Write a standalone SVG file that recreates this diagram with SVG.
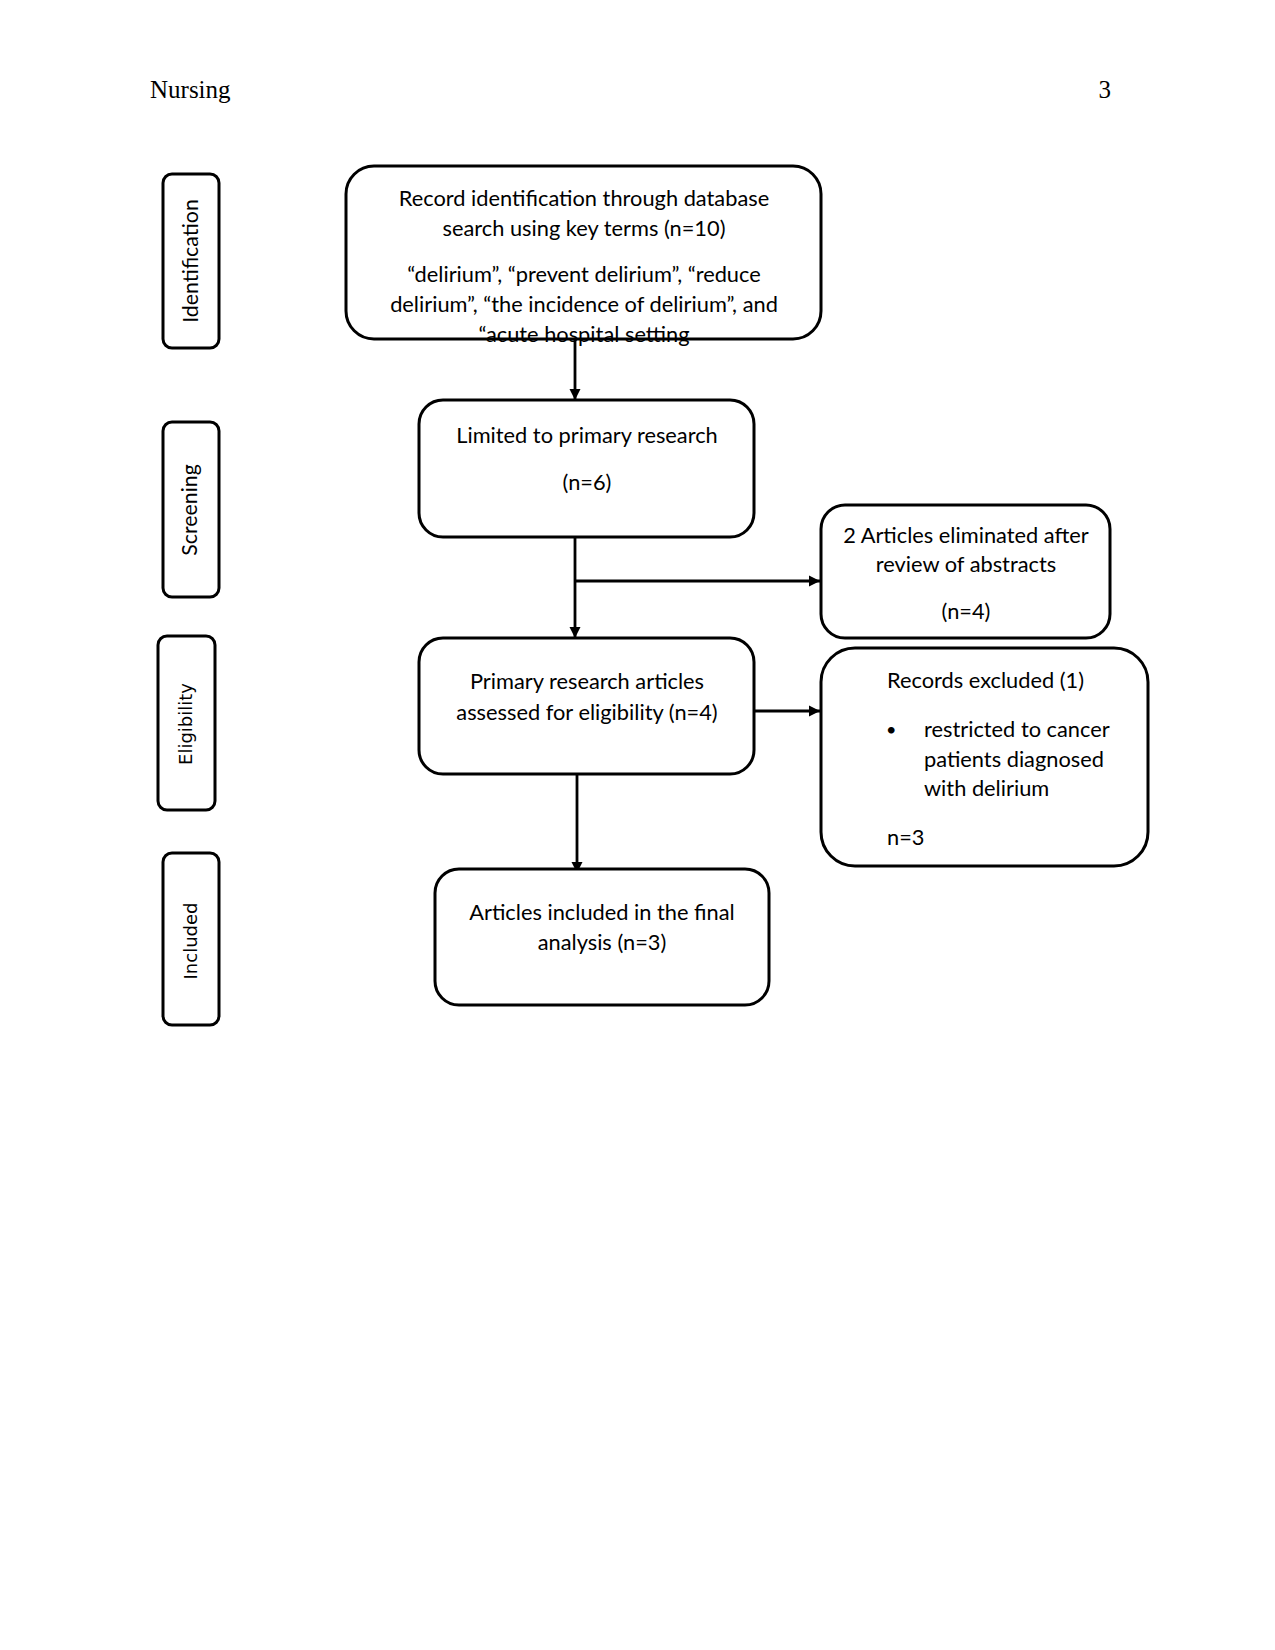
<svg xmlns="http://www.w3.org/2000/svg" width="1275" height="1650" viewBox="0 0 1275 1650">
<defs>
<style>
.box{fill:#fff;stroke:#000;stroke-width:3}
.side{fill:#fff;stroke:#000;stroke-width:3}
.t{font-family:Lato,"Liberation Sans",sans-serif;font-size:21.8px;fill:#000}
.c{text-anchor:middle}
.v{font-family:Lato,"Liberation Sans",sans-serif;font-size:21.3px;fill:#000;text-anchor:middle}
.v2{font-family:"DejaVu Sans",sans-serif;font-size:18px;fill:#000;text-anchor:middle}
.hdr{font-family:"Liberation Serif",serif;font-size:25px;fill:#000}
.conn{stroke:#000;stroke-width:2.8;fill:none}
</style>
<marker id="arr" markerUnits="userSpaceOnUse" markerWidth="12" markerHeight="12" refX="11" refY="6" orient="auto">
<path d="M0,0.5 L11,6 L0,11.5 z" fill="#000"/>
</marker>
</defs>
<rect width="1275" height="1650" fill="#fff"/>
<text class="hdr" x="150" y="98">Nursing</text>
<text class="hdr" x="1111" y="98" text-anchor="end">3</text>

<g id="lane-identification">
<rect class="side" x="163" y="174" width="56" height="174" rx="9"/>
<text class="v" transform="translate(198,261) rotate(-90)">Identification</text>
</g>
<g id="lane-screening">
<rect class="side" x="163" y="422" width="56" height="175" rx="9"/>
<text class="v" transform="translate(197,510) rotate(-90)">Screening</text>
</g>
<g id="lane-eligibility">
<rect class="side" x="158" y="636" width="57" height="174" rx="9"/>
<text class="v2" transform="translate(192,724) rotate(-90)">Eligibility</text>
</g>
<g id="lane-included">
<rect class="side" x="163" y="853" width="56" height="172" rx="9"/>
<text class="v2" transform="translate(197,941) rotate(-90)">Included</text>
</g>

<g id="connectors">
<line class="conn" x1="575" y1="339" x2="575" y2="400" marker-end="url(#arr)"/>
<line class="conn" x1="575" y1="537" x2="575" y2="638" marker-end="url(#arr)"/>
<line class="conn" x1="575" y1="581" x2="820" y2="581" marker-end="url(#arr)"/>
<line class="conn" x1="754" y1="711" x2="820" y2="711" marker-end="url(#arr)"/>
<line class="conn" x1="577" y1="774" x2="577" y2="873" marker-end="url(#arr)"/>
</g>

<g id="node-record-identification">
<rect class="box" x="346" y="166" width="475" height="173" rx="28"/>
<text class="t c" x="584" y="206">Record identification through database</text>
<text class="t c" x="584" y="236">search using key terms (n=10)</text>
<text class="t c" x="584" y="282">“delirium”, “prevent delirium”, “reduce</text>
<text class="t c" x="584" y="312">delirium”, “the incidence of delirium”, and</text>
<text class="t c" x="584" y="342">“acute hospital setting</text>
</g>

<g id="node-limited">
<rect class="box" x="419" y="400" width="335" height="137" rx="24"/>
<text class="t c" x="587" y="443">Limited to primary research</text>
<text class="t c" x="587" y="490">(n=6)</text>
</g>

<g id="node-eliminated">
<rect class="box" x="821" y="505" width="289" height="133" rx="24"/>
<text class="t c" x="966" y="543">2 Articles eliminated after</text>
<text class="t c" x="966" y="572">review of abstracts</text>
<text class="t c" x="966" y="619">(n=4)</text>
</g>

<g id="node-assessed">
<rect class="box" x="419" y="638" width="335" height="136" rx="24"/>
<text class="t c" x="587" y="689">Primary research articles</text>
<text class="t c" x="587" y="720">assessed for eligibility (n=4)</text>
</g>

<g id="node-excluded">
<rect class="box" x="821" y="648" width="327" height="218" rx="34"/>
<text class="t" x="887" y="688">Records excluded (1)</text>
<text class="t" x="886" y="736" style="font-size:18px">•</text>
<text class="t" x="924" y="737">restricted to cancer</text>
<text class="t" x="924" y="767">patients diagnosed</text>
<text class="t" x="924" y="796">with delirium</text>
<text class="t" x="887" y="845">n=3</text>
</g>

<g id="node-included">
<rect class="box" x="435" y="869" width="334" height="136" rx="24"/>
<text class="t c" x="602" y="920">Articles included in the final</text>
<text class="t c" x="602" y="950">analysis (n=3)</text>
</g>
</svg>
